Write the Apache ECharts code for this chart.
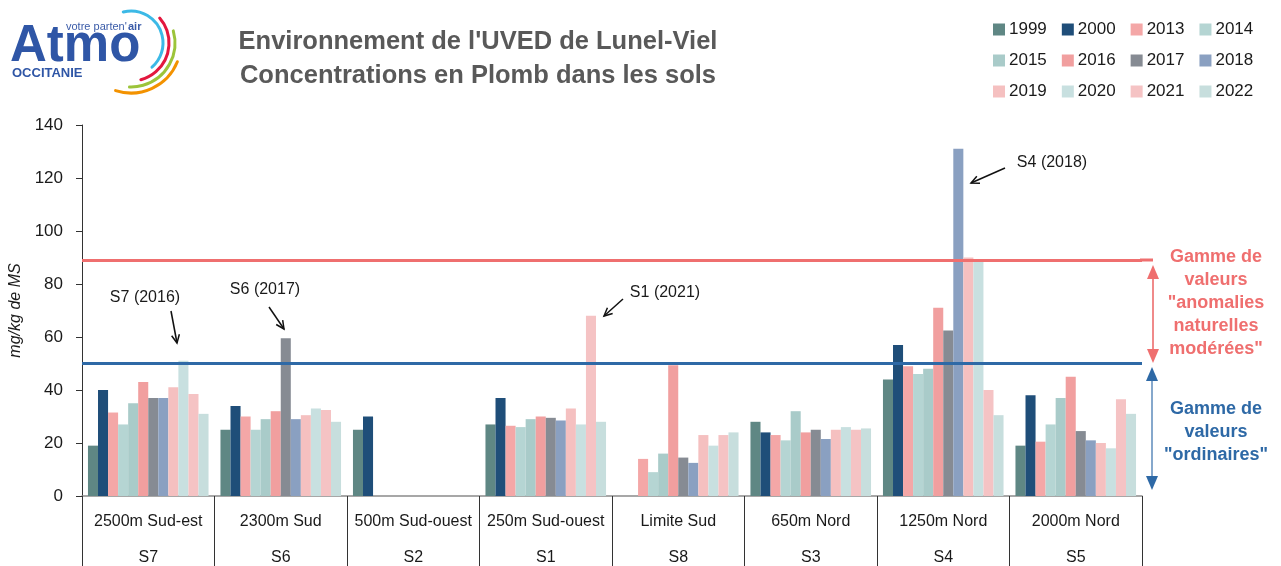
<!DOCTYPE html>
<html>
<head>
<meta charset="utf-8">
<script src="https://cdn.jsdelivr.net/npm/echarts@6/dist/echarts.min.js"></script>
<style>
html,body{margin:0;padding:0;background:#fff;}
#chart{width:1281px;height:566px;}
</style>
</head>
<body>
<div id="chart"></div>
<script>
// ---- data ----
const categories = ['2500m Sud-est','2300m Sud','500m Sud-ouest','250m Sud-ouest','Limite Sud','650m Nord','1250m Nord','2000m Nord'];
const siteCodes = ['S7','S6','S2','S1','S8','S3','S4','S5'];
const years = ['1999','2000','2013','2014','2015','2016','2017','2018','2019','2020','2021','2022'];
const y1999 = [19, 25, 25, 27, null, 28, 44, 19];
const y2000 = [40, 34, 30, 37, null, 24, 57, 38];
const y2013 = [31.5, 30, null, 26.5, 14, 23, 49, 20.5];
const y2014 = [27, 25, null, 26, 9, 21, 46, 27];
const y2015 = [35, 29, null, 29, 16, 32, 48, 37];
const y2016 = [43, 32, null, 30, 49.3, 24, 71, 45];
const y2017 = [37, 59.5, null, 29.5, 14.5, 25, 62.5, 24.5];
const y2018 = [37, 29, null, 28.5, 12.5, 21.5, 131, 21];
const y2019 = [41, 30.5, null, 33, 23, 25, 90, 20];
const y2020 = [51, 33, null, 27, 19, 26, 88.5, 18];
const y2021 = [38.5, 32.5, null, 68, 23, 25, 40, 36.5];
const y2022 = [31, 28, null, 28, 24, 25.5, 30.5, 31];
const seriesValues = [y1999,y2000,y2013,y2014,y2015,y2016,y2017,y2018,y2019,y2020,y2021,y2022];
const yTicks = [0,20,40,60,80,100,120,140];
const upperThreshold = 89;
const lowerThreshold = 50;
const annotations = ['S7 (2016)','S6 (2017)','S1 (2021)','S4 (2018)'];

// ---- styles ----
const colors = ['#5f8784','#1f4e79','#f4a7a7','#b5d5d3','#a9cbc9','#f19f9f','#868b93','#8aa0c1','#f5c0c0','#c8e0e0','#f5c3c4','#c7dedd'];
const FONT = '"Liberation Sans", Arial, sans-serif';
const RED = '#ef6f6f';
const BLUE = '#2e69a6';

const chart = echarts.init(document.getElementById('chart'), null, {renderer:'canvas'});

const series = years.map((y, i) => ({
  name: y,
  type: 'bar',
  data: seriesValues[i],
  itemStyle: {color: colors[i]},
  barGap: '0%',
  barCategoryGap: '9%',
  z: 2
}));
series[0].markLine = {
  silent: true,
  symbol: ['none','none'],
  label: {show: false},
  z: 5,
  data: [
    {yAxis: upperThreshold, lineStyle: {color: RED, width: 3, type: 'solid'}},
    {yAxis: lowerThreshold, lineStyle: {color: BLUE, width: 3, type: 'solid'}}
  ]
};

function legendRow(items, top) {
  return {
    data: items, left: 993, top: top, orient: 'horizontal', padding: 0,
    icon: 'rect', itemWidth: 12, itemHeight: 12, itemGap: 15,
    selectedMode: false,
    textStyle: {fontFamily: FONT, fontSize: 17, color: '#1a1a1a', padding: [0,0,0,-1]}
  };
}

function arrow(x1, y1, x2, y2, color, head) {
  const ang = Math.atan2(y2 - y1, x2 - x1);
  const h = head || 9, a = 0.45;
  return [
    {type: 'line', shape: {x1, y1, x2, y2}, style: {stroke: color, lineWidth: 1.5}, silent: true},
    {type: 'polyline', shape: {points: [
      [x2 - h*Math.cos(ang - a), y2 - h*Math.sin(ang - a)], [x2, y2],
      [x2 - h*Math.cos(ang + a), y2 - h*Math.sin(ang + a)]]},
      style: {stroke: color, lineWidth: 1.5, fill: null}, silent: true}
  ];
}
function annText(t, x, y) {
  return {type: 'text', x, y, style: {text: t, font: '16px ' + FONT, fill: '#1a1a1a', textAlign: 'center', textVerticalAlign: 'middle'}, silent: true};
}
function dblArrow(x, yTop, yBot, color, shaft) {
  return [
    {type: 'line', shape: {x1: x, y1: yTop + 8, x2: x, y2: yBot - 8}, style: {stroke: shaft, lineWidth: 2}, silent: true},
    {type: 'polygon', shape: {points: [[x, yTop], [x - 6, yTop + 14], [x + 6, yTop + 14]]}, style: {fill: color}, silent: true},
    {type: 'polygon', shape: {points: [[x, yBot], [x - 6, yBot - 14], [x + 6, yBot - 14]]}, style: {fill: color}, silent: true}
  ];
}
function sideText(lines, y0, color) {
  return lines.map((t, i) => ({type: 'text', x: 1216, y: y0 + i * 23,
    style: {text: t, font: 'bold 18px ' + FONT, fill: color, textAlign: 'center', textVerticalAlign: 'middle'}, silent: true}));
}
function arc(r, s, e, color) {
  return {type: 'arc', shape: {cx: 131, cy: 43, r: r, startAngle: s * Math.PI / 180, endAngle: e * Math.PI / 180, clockwise: true},
    style: {stroke: color, lineWidth: 3, fill: null, lineCap: 'round'}, silent: true};
}

const graphic = [
  // title
  {type: 'text', x: 478, y: 42, style: {text: "Environnement de l'UVED de Lunel-Viel", font: 'bold 25.5px ' + FONT, fill: '#595959', textAlign: 'center', textVerticalAlign: 'middle'}},
  {type: 'text', x: 478, y: 76, style: {text: 'Concentrations en Plomb dans les sols', font: 'bold 25.5px ' + FONT, fill: '#595959', textAlign: 'center', textVerticalAlign: 'middle'}},
  // logo
  {type: 'text', x: 10, y: 47, style: {text: 'Atmo', font: 'bold 51px ' + FONT, fill: '#2f56a6', textVerticalAlign: 'middle'}},
  {type: 'text', x: 66, y: 27, style: {text: "votre parten'", font: '11px ' + FONT, fill: '#3a5ba8', textVerticalAlign: 'middle'}},
  {type: 'text', x: 128, y: 27, style: {text: 'air', font: 'bold 11px ' + FONT, fill: '#3a5ba8', textVerticalAlign: 'middle'}},
  {type: 'text', x: 12, y: 73, style: {text: 'OCCITANIE', font: 'bold 13px ' + FONT, fill: '#2f56a6', textVerticalAlign: 'middle'}},
  arc(32, -104, 49, '#3cb9e6'),
  arc(38, -41, 75, '#e3173e'),
  arc(44, -16, 92, '#9cc43a'),
  arc(50, 22, 108, '#f39200'),
  // annotations
  annText(annotations[0], 145, 298), ...arrow(171, 311, 177, 343, '#111'),
  annText(annotations[1], 265, 290), ...arrow(269, 307, 284, 329, '#111'),
  annText(annotations[2], 665, 293), ...arrow(623, 299, 604, 316, '#111'),
  annText(annotations[3], 1052, 163), ...arrow(1005, 168, 971, 183, '#111'),
  // extension of the red line to the arrow
  {type: 'line', shape: {x1: 1140, y1: 260, x2: 1153, y2: 260}, style: {stroke: RED, lineWidth: 3}, silent: true},
  ...dblArrow(1153, 265, 363, RED, '#f08a8a'),
  ...dblArrow(1152, 367, 490, BLUE, '#86a8cc'),
  ...sideText(['Gamme de', 'valeurs', '"anomalies', 'naturelles', 'modérées"'], 257, RED),
  ...sideText(['Gamme de', 'valeurs', '"ordinaires"'], 409, BLUE)
];

chart.setOption({
  animation: false,
  backgroundColor: '#fff',
  color: colors,
  textStyle: {fontFamily: FONT},
  grid: {left: 82, right: 139, top: 125, bottom: 70, containLabel: false, outerBoundsMode: 'none'},
  legend: [
    legendRow(years.slice(0, 4), 21),
    legendRow(years.slice(4, 8), 52),
    legendRow(years.slice(8, 12), 83)
  ],
  xAxis: {
    type: 'category',
    data: categories,
    axisLine: {lineStyle: {color: '#8a8a8a', width: 1.5}},
    axisTick: {show: true, length: 72, alignWithLabel: false, lineStyle: {color: '#333', width: 1}},
    axisLabel: {
      interval: 0, margin: 8,
      formatter: (v, i) => '{a|' + v + '}\n{b|' + siteCodes[i] + '}',
      rich: {
        a: {fontFamily: FONT, fontSize: 16, color: '#1a1a1a', lineHeight: 36, align: 'center'},
        b: {fontFamily: FONT, fontSize: 16, color: '#1a1a1a', lineHeight: 36, align: 'center'}
      }
    }
  },
  yAxis: {
    type: 'value', min: yTicks[0], max: yTicks[yTicks.length - 1], interval: 20,
    name: 'mg/kg de MS', nameLocation: 'middle', nameGap: 51, nameRotate: 90,
    nameTextStyle: {fontFamily: FONT, fontSize: 16, fontStyle: 'italic', color: '#1a1a1a'},
    axisLine: {show: true, lineStyle: {color: '#333', width: 1}},
    axisTick: {show: true, length: 6, lineStyle: {color: '#333'}},
    splitLine: {show: false},
    axisLabel: {fontFamily: FONT, fontSize: 17, color: '#1a1a1a', margin: 19}
  },
  series: series,
  graphic: graphic
});
</script>
</body>
</html>
